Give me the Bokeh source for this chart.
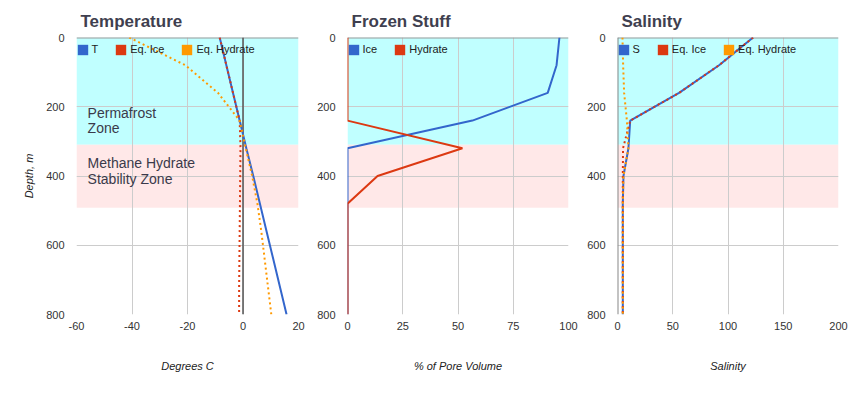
import math
from bokeh.plotting import figure
from bokeh.models import (Range1d, FixedTicker, BoxAnnotation, Span, Label,
                          Legend, LegendItem, PrintfTickFormatter)
from bokeh.layouts import row
from bokeh.embed import file_html
from bokeh.resources import INLINE

# ---------------- data ----------------
depth = [0, 80, 160, 240, 320, 400, 480, 560, 640, 720, 800]

temp_T = [-8.4, -6.0, -3.6, -1.2, 1.2, 3.7, 6.1, 8.5, 10.9, 13.3, 15.7]
temp_eq_ice = [-8.4, -6.0, -3.6, -1.2, -0.9, -1.0, -1.1, -1.2, -1.3, -1.4, -1.4]
temp_eq_hydrate = [-41.0, -20.8, -9.0, -1.2, 1.0, 3.3, 5.2, 6.6, 7.8, 9.0, 10.2]

ice = [95.9, 94.6, 90.6, 56.5, 0, 0, 0, 0, 0, 0, 0]
hydrate = [0, 0, 0, 0, 52.0, 13.6, 0, 0, 0, 0, 0]

sal_S = [122.7, 91.9, 55.7, 11.5, 9.9, 5.4, 4.8, 4.8, 4.8, 4.8, 4.8]
sal_eq_ice = [122.7, 91.9, 55.7, 11.5, 5.0, 4.8, 4.8, 4.8, 4.8, 4.8, 4.8]
sal_eq_hydrate = [4.5, 5.1, 6.0, 8.5, 9.9, 5.4, 4.8, 4.8, 4.8, 4.8, 4.8]

depth_ticks = [0, 200, 400, 600, 800]
temp_ticks = [-60, -40, -20, 0, 20]
frozen_ticks = [0, 25, 50, 75, 100]
sal_ticks = [0, 50, 100, 150, 200]

permafrost_zone = (0, 310)
hydrate_zone = (310, 492)

BLUE = "#3366cc"
RED = "#dc3912"
ORANGE = "#ff9900"
FONT = "Liberation Sans"


def make_fig(width, left, right, xr, xticks, title, xlabel, ylabel=None):
    p = figure(width=width, height=379, x_range=Range1d(*xr),
               y_range=Range1d(800, 0), output_backend="svg",
               toolbar_location=None, min_border_left=left,
               min_border_right=right, min_border_top=37,
               min_border_bottom=65)
    p.outline_line_color = None
    p.background_fill_color = "white"
    p.border_fill_color = "white"
    p.title.text = title
    p.title.text_font = FONT
    p.title.text_font_size = "17px"
    p.title.text_font_style = "bold"
    p.title.text_color = "#3f3f4f"
    p.title.offset = 4
    p.title.standoff = 10
    p.title.vertical_align = "top"

    p.xaxis.ticker = FixedTicker(ticks=xticks)
    p.xaxis.formatter = PrintfTickFormatter(format="%d")
    p.yaxis.ticker = FixedTicker(ticks=depth_ticks)
    for ax in (p.xaxis[0], p.yaxis[0]):
        ax.axis_line_color = None
        ax.major_tick_line_color = None
        ax.minor_tick_line_color = None
        ax.major_tick_out = 0
        ax.major_tick_in = 0
        ax.minor_tick_out = 0
        ax.minor_tick_in = 0
        ax.major_label_text_font = FONT
        ax.major_label_text_font_size = "11px"
        ax.major_label_text_color = "#333333"
        ax.axis_label_text_font = FONT
        ax.axis_label_text_font_size = "11px"
        ax.axis_label_text_font_style = "italic"
        ax.axis_label_text_color = "#222222"
    p.xaxis.major_label_standoff = 7
    p.xaxis.axis_label = xlabel
    p.xaxis.axis_label_standoff = 27
    p.yaxis.major_label_standoff = 12
    if ylabel:
        p.yaxis.axis_label = ylabel
        p.yaxis.axis_label_standoff = 8

    p.grid.grid_line_color = "#cccccc"
    p.grid.grid_line_width = 1

    p.add_layout(BoxAnnotation(top=permafrost_zone[0], bottom=permafrost_zone[1],
                               fill_color="#c0ffff", fill_alpha=1,
                               line_color=None, level="image"))
    p.add_layout(BoxAnnotation(top=hydrate_zone[0], bottom=hydrate_zone[1],
                               fill_color="#ffe8e8", fill_alpha=1,
                               line_color=None, level="image"))
    p.add_layout(Span(location=0, dimension="width", line_color="#999999",
                      line_width=2, level="underlay"))
    return p


def add_legend(p, entries):
    items = []
    for label, color in entries:
        sw = p.quad(left=[math.nan], right=[math.nan], top=[math.nan],
                    bottom=[math.nan], fill_color=color, line_color=None)
        items.append(LegendItem(label=label, renderers=[sw]))
    lg = Legend(items=items, orientation="horizontal", location=(-0.5, 258.5),
                padding=0, margin=0, spacing=16, glyph_width=13,
                glyph_height=13, label_standoff=3, label_width=1,
                label_height=13, label_text_font=FONT,
                label_text_font_size="11px", label_text_color="#222222",
                border_line_alpha=0, background_fill_alpha=0)
    p.add_layout(lg)


# ---------------- Temperature ----------------
p1 = make_fig(306, 76, 8, (-60, 20), temp_ticks, "Temperature", "Degrees C",
              "Depth, m")
p1.add_layout(Span(location=0, dimension="height", line_color="#555555",
                   line_width=1.5, level="underlay"))
p1.line(temp_T, depth, line_color=BLUE, line_width=2)
p1.line(temp_eq_ice, depth, line_color=RED, line_width=2, line_dash="2 3")
p1.line(temp_eq_hydrate, depth, line_color=ORANGE, line_width=2, line_dash="2 3")
add_legend(p1, [("T", BLUE), ("Eq. Ice", RED), ("Eq. Hydrate", ORANGE)])
for txt, yy in [("Permafrost", 217), ("Zone", 262),
                ("Methane Hydrate", 362), ("Stability Zone", 408)]:
    p1.add_layout(Label(x=-56, y=yy, text=txt, text_font=FONT,
                        text_font_size="14px", text_color="#3a3a4a",
                        text_baseline="middle"))

# ---------------- Frozen Stuff ----------------
p2 = make_fig(274, 41, 12, (0, 100), frozen_ticks, "Frozen Stuff",
              "% of Pore Volume")
p2.line(ice, depth, line_color=BLUE, line_width=2)
p2.line(hydrate, depth, line_color=RED, line_width=2)
add_legend(p2, [("Ice", BLUE), ("Hydrate", RED)])

# ---------------- Salinity ----------------
p3 = make_fig(268, 37, 10, (0, 200), sal_ticks, "Salinity", "Salinity")
p3.add_layout(Span(location=0, dimension="height", line_color="#888888",
                   line_width=2, level="underlay"))
p3.line(sal_S, depth, line_color=BLUE, line_width=2)
p3.line(sal_eq_ice, depth, line_color=RED, line_width=2, line_dash="2 3")
p3.line(sal_eq_hydrate, depth, line_color=ORANGE, line_width=2, line_dash="2 3")
add_legend(p3, [("S", BLUE), ("Eq. Ice", RED), ("Eq. Hydrate", ORANGE)])

layout = row(p1, p2, p3, spacing=0)
open("out.html", "w").write(file_html(layout, INLINE))
